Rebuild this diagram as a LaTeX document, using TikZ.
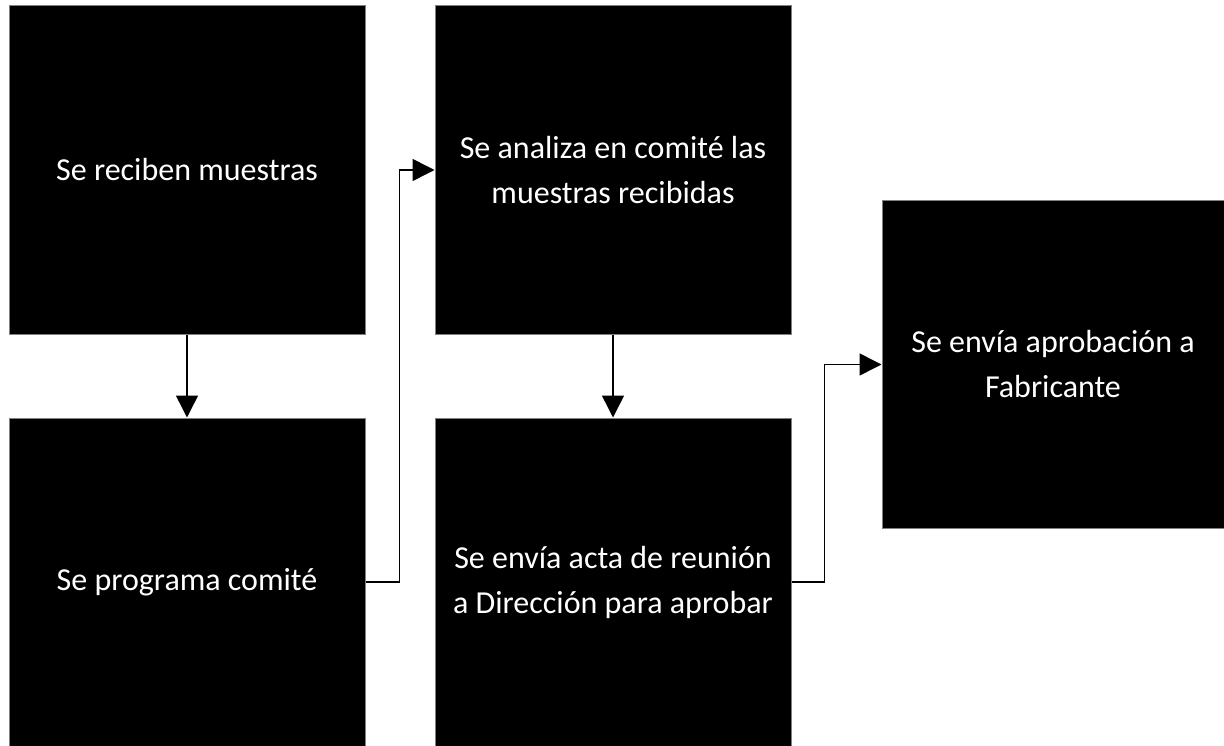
\documentclass[tikz,border=0pt]{standalone}
\usepackage{fontspec}
\setmainfont{Carlito}
\usetikzlibrary{arrows.meta}
\definecolor{edgegray}{RGB}{128,128,128}
\tikzset{
  box/.style={rectangle, fill=black, draw=edgegray, line width=1pt, text=white,
    minimum width=356pt, minimum height=328pt, inner sep=0pt, align=center,
    font=\fontsize{32}{45}\selectfont},
  arr/.style={line width=1.5pt, -{Triangle[length=22pt,width=22pt]}}
}
\begin{document}
\begin{tikzpicture}[x=1pt,y=-1pt]
\useasboundingbox (0,0) rectangle (1224,746);
\node[box] (b1) at (187,170) {Se reciben muestras};
\node[box] (b2) at (187,582) {Se programa comité};
\node[box] (b3) at (613,170) {Se analiza en comité las\\muestras recibidas};
\node[box] (b4) at (613,582) {Se envía acta de reunión\\a Dirección para aprobar};
\node[box, minimum width=342pt] (b5) at (1053,364.5) {Se envía aprobación a\\Fabricante};
\draw[arr] (b1) -- (b2);
\draw[arr] (b3) -- (b4);
\draw[arr] (b2.east) -- ++(34,0) |- (b3.west);
\draw[arr] (b4.east) -- ++(33,0) |- (b5.west);
\end{tikzpicture}
\end{document}
